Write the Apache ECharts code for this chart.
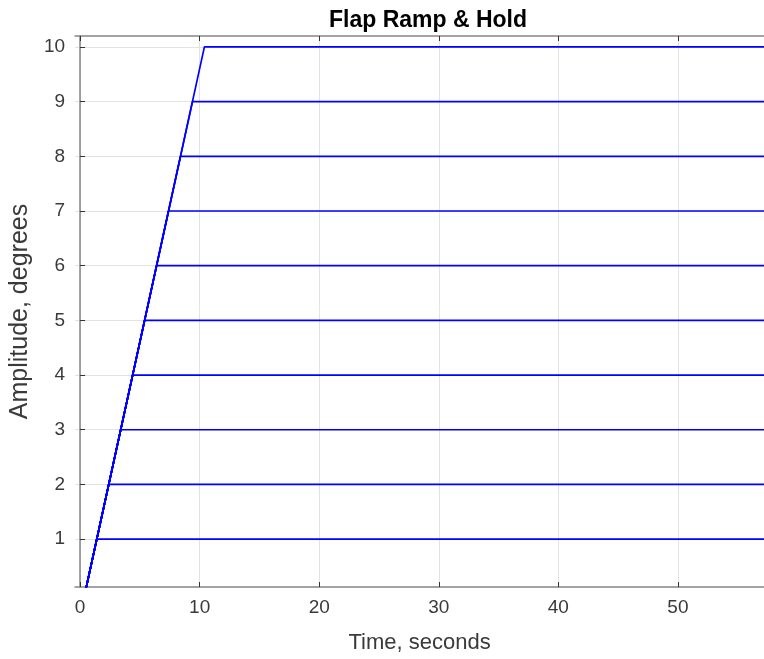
<!DOCTYPE html>
<html>
<head>
<meta charset="utf-8">
<script src="https://cdn.jsdelivr.net/npm/echarts@6/dist/echarts.min.js"></script>
<style>
  html, body { margin: 0; padding: 0; background: #fff; }
  #chart { width: 764px; height: 659px; }
</style>
</head>
<body>
<div id="chart"></div>
<script>
// hold levels (degrees) and the times at which each ramp reaches its level
const levels = [1, 2, 3, 4, 5, 6, 7, 8, 9, 10];
const rampStart = [0.4, 0];
const rampEndTimes = [1.4, 2.4, 3.4, 4.4, 5.4, 6.4, 7.4, 8.4, 9.4, 10.4];
const holdEndTime = 60;

const xTicks = [0, 10, 20, 30, 40, 50];
const yTicks = [1, 2, 3, 4, 5, 6, 7, 8, 9, 10];

const AXIS_COLOR = "#858585";
const TEXT_COLOR = "#3a3a3a";
const FONT = "Liberation Sans, Arial, sans-serif";

const series = levels.map((lvl, i) => ({
  type: "line",
  name: "hold " + lvl,
  showSymbol: false,
  clip: true,
  lineStyle: { color: "#0000ff", width: 1.7 },
  data: [rampStart, [rampEndTimes[i], lvl], [holdEndTime, lvl]],
}));

const chart = echarts.init(document.getElementById("chart"));
chart.setOption({
  animation: false,
  title: {
    text: "Flap Ramp & Hold",
    left: 423,
    textAlign: "center",
    top: 4,
    textStyle: { fontFamily: FONT, fontSize: 23, fontWeight: "bold", color: "#000" },
  },
  grid: { left: 75, top: 36, right: 0, bottom: 71 },
  xAxis: [
    {
      type: "value",
      min: -0.42,
      max: 57.2,
      name: "Time, seconds",
      nameLocation: "middle",
      nameGap: 45,
      nameTextStyle: { fontFamily: FONT, fontSize: 22, color: TEXT_COLOR },
      axisLine: { lineStyle: { color: AXIS_COLOR, width: 1.5 } },
      axisTick: { inside: true, length: 5, customValues: xTicks, lineStyle: { color: "#333" } },
      axisLabel: { customValues: xTicks, margin: 11, fontFamily: FONT, fontSize: 19, color: TEXT_COLOR },
      splitLine: { show: true, lineStyle: { color: "#e3e3e3", width: 1 } },
    },
    {
      type: "value",
      position: "top",
      min: -0.42,
      max: 57.2,
      axisLine: { lineStyle: { color: AXIS_COLOR, width: 1.5 } },
      axisTick: { inside: true, length: 5, customValues: xTicks, lineStyle: { color: "#333" } },
      axisLabel: { show: false },
      splitLine: { show: false },
    },
  ],
  yAxis: {
    type: "value",
    min: 0.124,
    max: 10.2,
    name: "Amplitude, degrees",
    nameLocation: "middle",
    nameGap: 41,
    nameTextStyle: { fontFamily: FONT, fontSize: 25, color: TEXT_COLOR },
    axisLine: { show: true, lineStyle: { color: AXIS_COLOR, width: 1.5 } },
    axisTick: { show: true, inside: true, length: 5, customValues: yTicks, lineStyle: { color: "#333" } },
    axisLabel: { customValues: yTicks, margin: 10, fontFamily: FONT, fontSize: 19, color: TEXT_COLOR },
    splitLine: { show: true, lineStyle: { color: "#e3e3e3", width: 1 } },
  },
  series: series,
});
</script>
</body>
</html>
